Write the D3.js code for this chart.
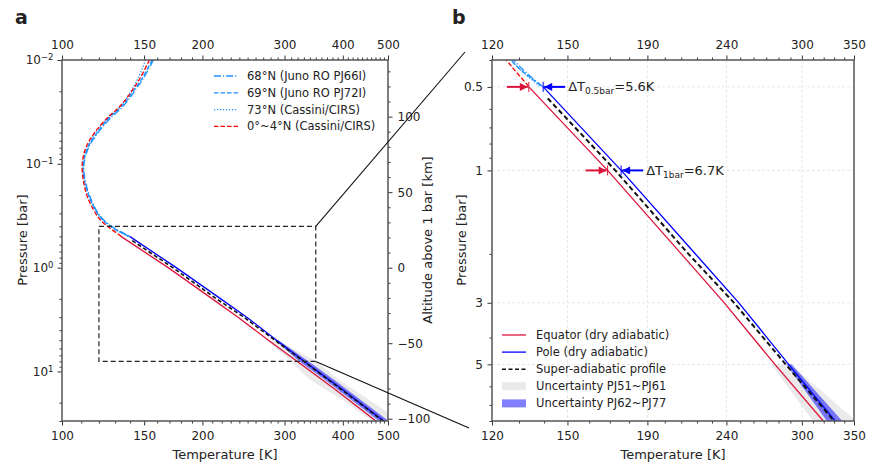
<!DOCTYPE html>
<html>
<head>
<meta charset="utf-8">
<script src="https://cdn.jsdelivr.net/npm/d3@7"></script>
<style>
body { margin: 0; background: #fff; }
text { font-family: "DejaVu Sans", sans-serif; fill: #222; }
</style>
</head>
<body>
<script>
const width = 878, height = 466;

// upper-atmosphere profiles (panel a), pressure in bar, temperature in K
const profP = [0.01, 0.015, 0.02, 0.025, 0.03, 0.035, 0.05, 0.07, 0.1, 0.14, 0.2, 0.28, 0.35, 0.42, 0.5];
const t68N  = [157, 149.5, 143, 138, 133, 128, 119.5, 114, 111.5, 112, 114.5, 118.5, 123, 130, 139.5];
const t69N  = [156, 148.5, 142, 137, 132, 127, 119, 113.5, 111, 111.5, 114, 118, 122.5, 129, 139.5];
const t73N  = [151, 145.5, 140.5, 136, 131.5, 126.5, 118, 113, 111, 111.5, 114, 118, 122.5, 129, 138.5];
const tEq04 = [154, 147, 141, 136, 131, 126, 117.5, 112.5, 110.5, 111, 113, 117, 121, 127, 134];

// adiabats
const adP = [0.5, 1, 2, 3, 5, 8, 15, 30];
const tEquator = [133.8, 168.9, 210, 238.5, 277, 319.6, 386, 471];
const tPole    = [139.6, 175.8, 219, 249, 288.5, 331, 400, 490];
const superP = [0.55, 1, 2, 3, 5, 8, 15, 30];
const tSuper = [141.5, 172.8, 214.5, 245.5, 286, 330, 398, 488];

// uncertainty bands
const bandP  = [5, 8, 12, 20, 30];
const grayLo = [274, 310, 340, 408, 462];
const grayHi = [290, 352, 392, 465, 530];
const blueLo = [286.5, 323, 366, 425, 478];
const blueHi = [291, 338, 383, 445, 502];

// delta-T annotations (panel b)
const deltaP = [0.5, 1];
const deltaSub = ["0.5bar", "1bar"];
const deltaVal = ["=5.6K", "=6.7K"];

// tick labels
const ticksAx = [100, 150, 200, 300, 400, 500];
const ticksAy = [0.01, 0.1, 1, 10];
const ticksAlt = [-100, -50, 0, 50, 100];
const ticksBx = [120, 150, 190, 240, 300, 350];
const ticksBy = [0.5, 1, 3, 5];

const legendA = ["68°N (Juno RO PJ66I)", "69°N (Juno RO PJ72I)", "73°N (Cassini/CIRS)", "0°~4°N (Cassini/CIRS)"];
const legendB = ["Equator (dry adiabatic)", "Pole (dry adiabatic)", "Super-adiabatic profile", "Uncertainty PJ51~PJ61", "Uncertainty PJ62~PJ77"];

const eqColor = "#dc143c", poleColor = "#0000ff", junoColor = "#1e90ff";

const svg = d3.select("body").append("svg")
    .attr("width", width).attr("height", height);

// scales
const xA = d3.scaleLog().domain([100, 500]).range([62, 388]);
const yA = d3.scaleLog().domain([0.01, 30]).range([60, 421]);
const altA = d3.scaleLinear().domain([-101.5, 137.5]).range([421, 60]);
const xB = d3.scaleLog().domain([120, 350]).range([492, 854]);
const yB = d3.scaleLog().domain([0.4, 8]).range([60, 421]);

const zip = (ps, ts) => ps.map((p, i) => ({ p: p, t: ts[i] }));
const bandData = (lo, hi) => bandP.map((p, i) => ({ p: p, lo: lo[i], hi: hi[i] }));

const defs = svg.append("defs");
["A", "B"].forEach(k => {
    const x = k === "A" ? xA : xB, y = k === "A" ? yA : yB;
    defs.append("clipPath").attr("id", "clip" + k).append("rect")
        .attr("x", x.range()[0]).attr("y", y.range()[0])
        .attr("width", x.range()[1] - x.range()[0])
        .attr("height", y.range()[1] - y.range()[0]);
});

function arrowMarker(id, color) {
    defs.append("marker")
        .attr("id", id)
        .attr("viewBox", "0 0 10 10")
        .attr("refX", 10).attr("refY", 5)
        .attr("markerUnits", "userSpaceOnUse")
        .attr("markerWidth", 9).attr("markerHeight", 8)
        .attr("orient", "auto")
        .append("path").attr("d", "M0,0 L10,5 L0,10 Z").attr("fill", color);
}
arrowMarker("arrRed", eqColor);
arrowMarker("arrBlue", poleColor);

// minor tick helpers
function logMinors(lo, hi) {
    const out = [];
    for (let dec = 0.001; dec <= 100; dec *= 10) {
        for (let k = 2; k <= 9; k++) {
            const v = +(k * dec).toPrecision(3);
            if (v >= lo && v <= hi) out.push(v);
        }
    }
    return out;
}

function drawAxis(g, axisFn, scale, majors, minors, fmt, pad) {
    g.call(axisFn(scale).tickValues(minors).tickSize(2.5).tickSizeOuter(0).tickFormat(""));
    const gm = g.append("g");
    gm.call(axisFn(scale).tickValues(majors).tickSize(4.5).tickSizeOuter(0).tickPadding(pad).tickFormat(fmt));
    g.selectAll(".domain").remove();
    g.selectAll("line").attr("stroke", "#333").attr("stroke-width", 1);
    g.selectAll("text").style("font-size", "12px").attr("fill", "#222");
    return gm;
}

function supFormat(sel) {
    sel.selectAll("text").each(function(d) {
        const e = Math.round(Math.log10(d));
        const t = d3.select(this).text("");
        t.append("tspan").text("10");
        t.append("tspan").attr("dy", "-0.5em").style("font-size", "8.5px").text(e < 0 ? "\u2212" + (-e) : e);
    });
}

// ---------------- panel a ----------------
const gA = svg.append("g");
const plotA = gA.append("g").attr("clip-path", "url(#clipA)");

const lineA = d3.line().x(d => xA(d.t)).y(d => yA(d.p));
const areaA = d3.area().x0(d => xA(d.lo)).x1(d => xA(d.hi)).y(d => yA(d.p));

plotA.append("path").datum(bandData(grayLo, grayHi)).attr("d", areaA)
    .attr("fill", "#bbbbbb").attr("fill-opacity", 0.3);
plotA.append("path").datum(bandData(blueLo, blueHi)).attr("d", areaA)
    .attr("fill", "#0000ff").attr("fill-opacity", 0.5);

plotA.append("path").datum(zip(adP, tEquator)).attr("d", lineA)
    .attr("fill", "none").attr("stroke", eqColor).attr("stroke-width", 1.3);
plotA.append("path").datum(zip(adP, tPole)).attr("d", lineA)
    .attr("fill", "none").attr("stroke", poleColor).attr("stroke-width", 1.3);
plotA.append("path").datum(zip(superP, tSuper)).attr("d", lineA)
    .attr("fill", "none").attr("stroke", "#111").attr("stroke-width", 1.6)
    .attr("stroke-dasharray", "4,2.5");

const profStyles = [
    { t: t68N, color: junoColor, dash: "7,2,1.2,2" },
    { t: t69N, color: junoColor, dash: "4.5,2" },
    { t: t73N, color: junoColor, dash: "1.2,1.8" },
    { t: tEq04, color: "#ff0000", dash: "4.5,2" }
];
const curve = d3.line().curve(d3.curveCatmullRom.alpha(0.5));
profStyles.forEach(s => {
    plotA.append("path").datum(zip(profP, s.t))
        .attr("d", curve.x(d => xA(d.t)).y(d => yA(d.p)))
        .attr("fill", "none").attr("stroke", s.color).attr("stroke-width", 1.3)
        .attr("stroke-dasharray", s.dash);
});

// zoom box and connectors
gA.append("rect")
    .attr("x", xA(120)).attr("y", yA(0.4))
    .attr("width", xA(350) - xA(120)).attr("height", yA(8) - yA(0.4))
    .attr("fill", "none").attr("stroke", "#222").attr("stroke-width", 1.2)
    .attr("stroke-dasharray", "5,3");
svg.append("line").attr("x1", xA(350)).attr("y1", yA(0.4)).attr("x2", 465).attr("y2", 52)
    .attr("stroke", "#111").attr("stroke-width", 1.1);
svg.append("line").attr("x1", xA(350)).attr("y1", yA(8)).attr("x2", 469).attr("y2", 428)
    .attr("stroke", "#111").attr("stroke-width", 1.1);

// axes a
const minorAx = d3.range(110, 500, 10).filter(v => !ticksAx.includes(v));
drawAxis(gA.append("g").attr("transform", `translate(0,${yA.range()[1]})`), d3.axisBottom, xA, ticksAx, minorAx, d3.format("d"), 6);
drawAxis(gA.append("g").attr("transform", `translate(0,${yA.range()[0]})`), d3.axisTop, xA, ticksAx, minorAx, d3.format("d"), 7);
const leftA = drawAxis(gA.append("g").attr("transform", `translate(${xA.range()[0]},0)`), d3.axisLeft, yA, ticksAy, logMinors(0.01, 30), d3.format("d"), 4);
supFormat(leftA);
const minorAlt = d3.range(-90, 140, 10).filter(v => !ticksAlt.includes(v));
drawAxis(gA.append("g").attr("transform", `translate(${xA.range()[1]},0)`), d3.axisRight, altA, ticksAlt, minorAlt, d3.format("d"), 5);

gA.append("rect")
    .attr("x", xA.range()[0]).attr("y", yA.range()[0])
    .attr("width", xA.range()[1] - xA.range()[0]).attr("height", yA.range()[1] - yA.range()[0])
    .attr("fill", "none").attr("stroke", "#555").attr("stroke-width", 1.5);

gA.append("text").attr("x", 225).attr("y", 458.5).attr("text-anchor", "middle")
    .style("font-size", "13px").text("Temperature [K]");
gA.append("text").attr("transform", "translate(27,240) rotate(-90)").attr("text-anchor", "middle")
    .style("font-size", "13px").text("Pressure [bar]");
gA.append("text").attr("transform", "translate(432,240) rotate(-90)").attr("text-anchor", "middle")
    .style("font-size", "13px").text("Altitude above 1 bar [km]");
svg.append("text").attr("x", 15).attr("y", 24).style("font-size", "19px").style("font-weight", "bold").text("a");

// legend a
const legA = gA.append("g");
profStyles.forEach((s, i) => {
    const y = 76 + i * 16.8;
    legA.append("line").attr("x1", 214).attr("x2", 238).attr("y1", y).attr("y2", y)
        .attr("stroke", s.color).attr("stroke-width", 1.3).attr("stroke-dasharray", s.dash);
    legA.append("text").attr("x", 247).attr("y", y).attr("dy", "0.35em")
        .style("font-size", "11.5px").text(legendA[i]);
});

// ---------------- panel b ----------------
const gB = svg.append("g");

// grid
gB.append("g").selectAll("line").data(ticksBx.slice(1, -1)).join("line")
    .attr("x1", d => xB(d)).attr("x2", d => xB(d))
    .attr("y1", yB.range()[0]).attr("y2", yB.range()[1]);
gB.append("g").selectAll("line").data(ticksBy).join("line")
    .attr("x1", xB.range()[0]).attr("x2", xB.range()[1])
    .attr("y1", d => yB(d)).attr("y2", d => yB(d));
gB.selectAll("line").attr("stroke", "#e2e2e2").attr("stroke-width", 0.8).attr("stroke-dasharray", "3,2");

const plotB = gB.append("g").attr("clip-path", "url(#clipB)");
const lineB = d3.line().x(d => xB(d.t)).y(d => yB(d.p));
const areaB = d3.area().x0(d => xB(d.lo)).x1(d => xB(d.hi)).y(d => yB(d.p));

plotB.append("path").datum(bandData(grayLo, grayHi)).attr("d", areaB)
    .attr("fill", "#bbbbbb").attr("fill-opacity", 0.3);
plotB.append("path").datum(bandData(blueLo, blueHi)).attr("d", areaB)
    .attr("fill", "#0000ff").attr("fill-opacity", 0.5);
plotB.append("path").datum(zip(adP, tEquator)).attr("d", lineB)
    .attr("fill", "none").attr("stroke", eqColor).attr("stroke-width", 1.3);
plotB.append("path").datum(zip(adP, tPole)).attr("d", lineB)
    .attr("fill", "none").attr("stroke", poleColor).attr("stroke-width", 1.3);
plotB.append("path").datum(zip(superP, tSuper)).attr("d", lineB)
    .attr("fill", "none").attr("stroke", "#111").attr("stroke-width", 2)
    .attr("stroke-dasharray", "5,3");
profStyles.forEach(s => {
    plotB.append("path").datum(zip(profP, s.t))
        .attr("d", curve.x(d => xB(d.t)).y(d => yB(d.p)))
        .attr("fill", "none").attr("stroke", s.color).attr("stroke-width", 1.3)
        .attr("stroke-dasharray", s.dash);
});

// delta-T arrows
deltaP.forEach((p, i) => {
    const y = yB(p);
    const xr = xB(tEquator[adP.indexOf(p)]);
    const xb = xB(tPole[adP.indexOf(p)]);
    gB.append("line").attr("x1", xr - 22).attr("x2", xr - 1).attr("y1", y).attr("y2", y)
        .attr("stroke", eqColor).attr("stroke-width", 2).attr("marker-end", "url(#arrRed)");
    gB.append("line").attr("x1", xb + 22).attr("x2", xb + 1).attr("y1", y).attr("y2", y)
        .attr("stroke", poleColor).attr("stroke-width", 2).attr("marker-end", "url(#arrBlue)");
    gB.append("line").attr("x1", xr).attr("x2", xr).attr("y1", y - 5).attr("y2", y + 5)
        .attr("stroke", eqColor).attr("stroke-width", 1);
    gB.append("line").attr("x1", xb).attr("x2", xb).attr("y1", y - 5).attr("y2", y + 5)
        .attr("stroke", poleColor).attr("stroke-width", 1);
    const t = gB.append("text").attr("x", xb + 25).attr("y", y + 4.5).style("font-size", "13px");
    t.append("tspan").text("\u0394T");
    t.append("tspan").attr("dy", 3).style("font-size", "9px").text(deltaSub[i]);
    t.append("tspan").attr("dy", -3).text(deltaVal[i]);
});

// axes b
const minorBx = d3.range(130, 350, 10).filter(v => !ticksBx.includes(v));
const minorBy = [0.4, 0.6, 0.7, 0.8, 0.9, 2, 4, 6, 7, 8];
drawAxis(gB.append("g").attr("transform", `translate(0,${yB.range()[1]})`), d3.axisBottom, xB, ticksBx, minorBx, d3.format("d"), 6);
drawAxis(gB.append("g").attr("transform", `translate(0,${yB.range()[0]})`), d3.axisTop, xB, ticksBx, minorBx, d3.format("d"), 7);
drawAxis(gB.append("g").attr("transform", `translate(${xB.range()[0]},0)`), d3.axisLeft, yB, ticksBy, minorBy, d => String(d), 4.5);

gB.append("rect")
    .attr("x", xB.range()[0]).attr("y", yB.range()[0])
    .attr("width", xB.range()[1] - xB.range()[0]).attr("height", yB.range()[1] - yB.range()[0])
    .attr("fill", "none").attr("stroke", "#555").attr("stroke-width", 1.5);

gB.append("text").attr("x", 673).attr("y", 458.5).attr("text-anchor", "middle")
    .style("font-size", "13px").text("Temperature [K]");
gB.append("text").attr("transform", "translate(466,240) rotate(-90)").attr("text-anchor", "middle")
    .style("font-size", "13px").text("Pressure [bar]");
svg.append("text").attr("x", 452).attr("y", 24).style("font-size", "19px").style("font-weight", "bold").text("b");

// legend b
const legB = gB.append("g");
const legBStyles = [
    { type: "line", color: eqColor, dash: null, w: 1.3 },
    { type: "line", color: poleColor, dash: null, w: 1.3 },
    { type: "line", color: "#111", dash: "4,2.5", w: 1.5 },
    { type: "rect", color: "#bbbbbb", op: 0.3 },
    { type: "rect", color: "#0000ff", op: 0.5 }
];
legBStyles.forEach((s, i) => {
    const y = 335 + i * 17.1;
    if (s.type === "line") {
        legB.append("line").attr("x1", 502).attr("x2", 526).attr("y1", y).attr("y2", y)
            .attr("stroke", s.color).attr("stroke-width", s.w).attr("stroke-dasharray", s.dash);
    } else {
        legB.append("rect").attr("x", 502).attr("y", y - 4).attr("width", 24).attr("height", 8)
            .attr("fill", s.color).attr("fill-opacity", s.op);
    }
    legB.append("text").attr("x", 536).attr("y", y).attr("dy", "0.35em")
        .style("font-size", "11.5px").text(legendB[i]);
});
</script>
</body>
</html>
